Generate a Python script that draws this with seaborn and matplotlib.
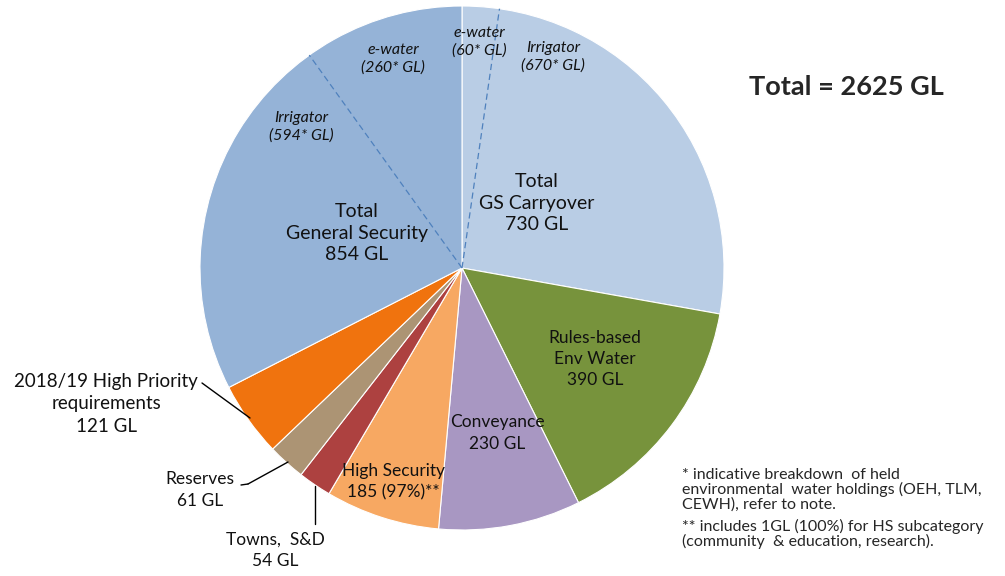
import numpy as np
import matplotlib
matplotlib.use("Agg")
import matplotlib.pyplot as plt
import seaborn as sns

# slice values (GL), clockwise from 12 o'clock
categories = ["GS Carryover", "Rules-based Env Water", "Conveyance", "High Security",
              "Towns, S&D", "Reserves", "High Priority", "General Security"]
values = [730, 390, 230, 185, 54, 61, 121, 854]
colors = ["#B9CDE5", "#77933C", "#A897C2", "#F7A862",
          "#AD4140", "#AC9474", "#F0730E", "#95B3D7"]

# held environmental water splits
carryover_ewater = 60
carryover_irrig = 670
gs_irrig = 594
gs_ewater = 260

total = sum(values)

sns.set_style("white")
plt.rcParams['font.family'] = ['Lato', 'DejaVu Sans']

fig = plt.figure(figsize=(10.05, 5.76), dpi=100)
cx, cy, r = 462, 268, 262
ax = fig.add_axes([(cx - r) / 1005, (576 - cy - r) / 576, 2 * r / 1005, 2 * r / 576])

wedges, _ = ax.pie(values, colors=colors, startangle=90, counterclock=False,
                   wedgeprops=dict(edgecolor="white", linewidth=0.8))
ax.set_xlim(-1, 1)
ax.set_ylim(-1, 1)
ax.set_aspect("equal")

# dashed sub-division lines
for frac in [carryover_ewater / total, -gs_ewater / total]:
    ang = np.deg2rad(90 - 360 * frac)
    ax.plot([0, np.cos(ang)], [0, np.sin(ang)], ls=(0, (5, 3)), color="#4F81BD", lw=0.9)

def p(px, py):
    return (px - cx) / r, (cy - py) / r

def lab(px, py, s, size=12.5, ls=1.4, **kw):
    x, y = p(px, py)
    ax.text(x, y, s, ha="center", va="center", fontsize=size, color="#111111",
            linespacing=ls, clip_on=False, **kw)

lab(479, 42, "e-water\n(60* GL)", size=11.5, ls=1.3, style="italic")
lab(553, 57, "Irrigator\n(670* GL)", size=11.5, ls=1.3, style="italic")
lab(393, 59, "e-water\n(260* GL)", size=11.5, ls=1.3, style="italic")
lab(301, 127, "Irrigator\n(594* GL)", size=11.5, ls=1.3, style="italic")
lab(537, 203, "Total\nGS Carryover\n" + f"{values[0]} GL", size=14, ls=1.35)
lab(357, 233, "Total\nGeneral Security\n" + f"{values[7]} GL", size=14, ls=1.35)
lab(595, 359, "Rules-based\nEnv Water\n" + f"{values[1]} GL", size=12.5)
lab(497, 433, "Conveyance\n" + f"{values[2]} GL", size=12.5)
lab(393, 482, "High Security\n" + f"{values[3]} (97%)**", size=12.5)
lab(106, 404, "2018/19 High Priority\nrequirements\n" + f"{values[6]} GL", size=13.5)
lab(200, 490, "Reserves\n" + f"{values[5]} GL", size=12.5)
lab(275, 550, "Towns,  S&D\n" + f"{values[4]} GL", size=12.5)

# leader lines
for (x0, y0), (x1, y1) in [((202, 383), (250, 418)), ((248, 484), (288, 462)),
                           ((241, 485), (248, 484)), ((315, 486), (315, 524))]:
    a, b = p(x0, y0)
    c, d = p(x1, y1)
    ax.plot([a, c], [b, d], color="black", lw=1, clip_on=False)

fig.text(846 / 1005, 1 - 87 / 576, f"Total = {total} GL", ha="center", va="center",
         fontsize=19.5, fontweight="bold")
fig.text(682 / 1005, 1 - 468 / 576,
         "* indicative breakdown  of held\nenvironmental  water holdings (OEH, TLM,\nCEWH), refer to note.",
         ha="left", va="top", fontsize=11.5, linespacing=1.0)
fig.text(682 / 1005, 1 - 519 / 576,
         "** includes 1GL (100%) for HS subcategory\n(community  & education, research).",
         ha="left", va="top", fontsize=11.5, linespacing=1.0)

fig.savefig("out.png", dpi=100)
